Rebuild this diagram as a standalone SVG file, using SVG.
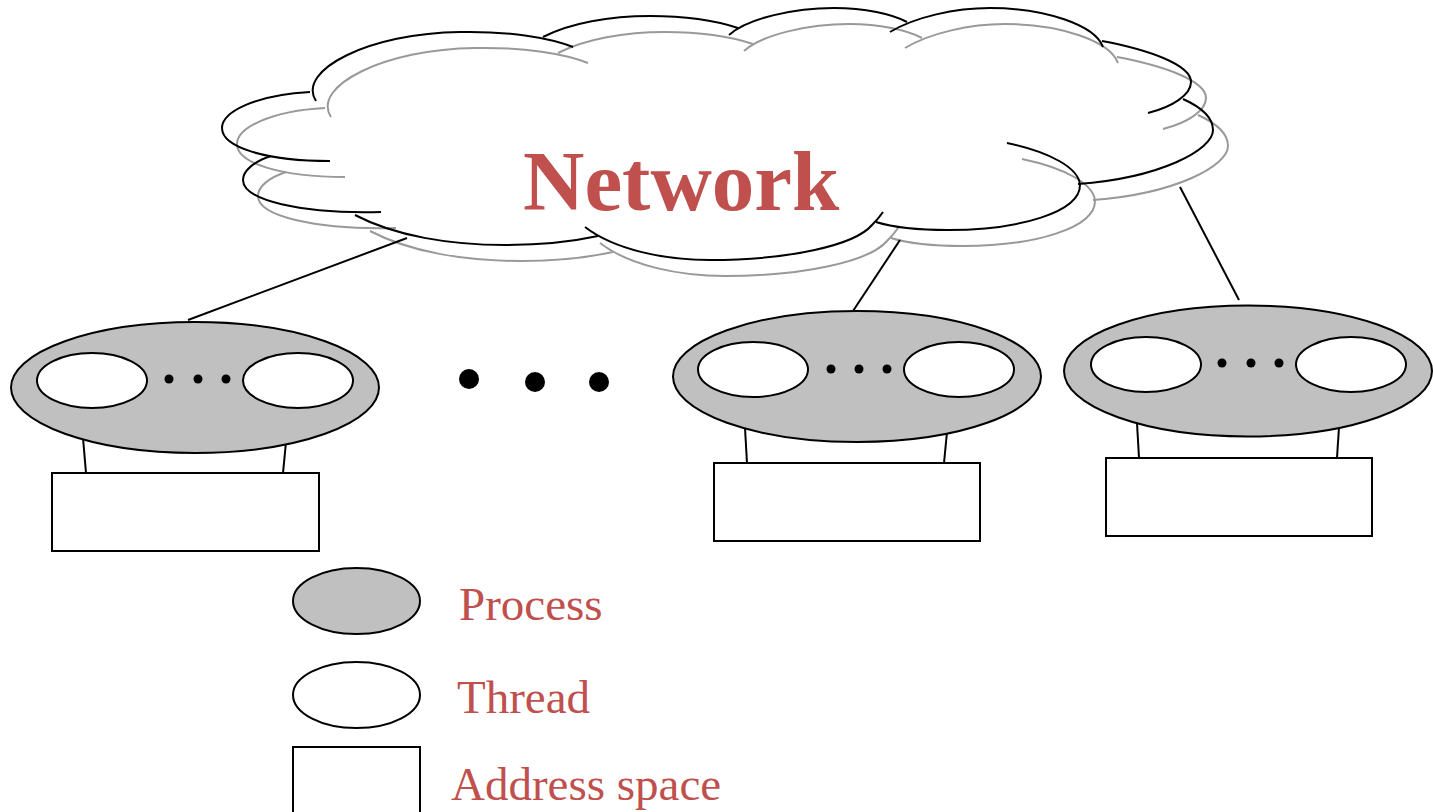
<svg xmlns="http://www.w3.org/2000/svg" xmlns:xlink="http://www.w3.org/1999/xlink" width="1433" height="812" viewBox="0 0 1433 812">
  <style>
    .arc { fill: none; stroke-linecap: butt; }
    .line { fill: none; stroke: #000; stroke-width: 2; }
    .proc { fill: #c0c0c0; stroke: #000; stroke-width: 2; }
    .thread { fill: #fff; stroke: #000; stroke-width: 2; }
    .space { fill: #fff; stroke: #000; stroke-width: 2; }
    .dot { fill: #000; }
    .title { font-family: "Liberation Serif", "Times New Roman", serif; font-weight: bold; font-size: 85px; fill: #c0504d; }
    .label { font-family: "Liberation Serif", "Times New Roman", serif; font-size: 47px; fill: #c0504d; }
  </style>
  <defs>
    <!-- cloud outline built from overlapping lobe arcs; stroke colour comes from the <use> -->
    <g id="cloudArcs">
      <path class="arc" d="M316,101 C296,70 370,33 460,32 C510,31 550,38 573,47"/>
      <path class="arc" d="M310,92 C255,95 222,112 222,128 C222,147 265,161 330,161"/>
      <path class="arc" d="M271,156 C253,162 243,171 243,180 C243,200 300,214 381,212"/>
      <path class="arc" d="M355,215 C395,236 450,245 505,245 C545,245 575,241 598,236"/>
      <path class="arc" d="M585,227 C615,250 665,260 710,260 C790,260 855,245 872,225 C878,219 881,215 883,212"/>
      <path class="arc" d="M1007,143 C1050,152 1079,168 1080,185 C1080,212 1020,230 948,230 C918,230 892,227 876,222"/>
      <path class="arc" d="M1183,99 C1203,108 1213,118 1213,130 C1213,150 1160,178 1078,184"/>
      <path class="arc" d="M1102,41 C1150,50 1191,65 1191,82 C1191,95 1172,107 1148,113"/>
      <path class="arc" d="M890,32 C915,17 955,8 990,8 C1045,8 1095,25 1103,47"/>
      <path class="arc" d="M729,35 C748,18 795,8 834,8 C865,8 892,14 907,22"/>
      <path class="arc" d="M543,37 C570,23 610,16 650,16 C690,16 720,22 738,28"/>
    </g>
  </defs>

  <g id="network">
    <use xlink:href="#cloudArcs" transform="translate(15,16)" stroke="#999" stroke-width="2"/>
    <use xlink:href="#cloudArcs" stroke="#000" stroke-width="2"/>
    <text class="title" x="523" y="210">Network</text>
  </g>

  <g id="connectors">
    <line class="line" x1="407" y1="238" x2="188" y2="320"/>
    <line class="line" x1="900" y1="240" x2="853" y2="311"/>
    <line class="line" x1="1180" y1="187" x2="1239" y2="300"/>
    <line class="line" x1="83" y1="438" x2="86" y2="473"/>
    <line class="line" x1="286" y1="442" x2="283" y2="473"/>
    <line class="line" x1="745" y1="428" x2="747" y2="463"/>
    <line class="line" x1="947" y1="432" x2="944" y2="463"/>
    <line class="line" x1="1137" y1="423" x2="1139" y2="458"/>
    <line class="line" x1="1339" y1="427" x2="1337" y2="458"/>
  </g>

  <g id="process1">
    <ellipse class="proc" cx="195" cy="387.5" rx="184" ry="65.5"/>
    <ellipse class="thread" cx="92" cy="380.5" rx="55" ry="27.5"/>
    <ellipse class="thread" cx="298" cy="380.5" rx="55" ry="27.5"/>
    <circle class="dot" cx="169" cy="379" r="4.5"/>
    <circle class="dot" cx="198" cy="379" r="4.5"/>
    <circle class="dot" cx="226" cy="379" r="4.5"/>
  </g>
  <g id="space1">
    <rect class="space" x="52" y="473" width="267" height="78"/>
  </g>

  <g id="ellipsis">
    <circle class="dot" cx="469" cy="379" r="10"/>
    <circle class="dot" cx="535" cy="382" r="10"/>
    <circle class="dot" cx="599" cy="382" r="10"/>
  </g>

  <g id="process2">
    <ellipse class="proc" cx="857" cy="376.5" rx="184" ry="65.5"/>
    <ellipse class="thread" cx="753" cy="369.5" rx="55" ry="27.5"/>
    <ellipse class="thread" cx="959" cy="369.5" rx="55" ry="27.5"/>
    <circle class="dot" cx="831" cy="369" r="4.5"/>
    <circle class="dot" cx="859" cy="369" r="4.5"/>
    <circle class="dot" cx="887" cy="369" r="4.5"/>
  </g>
  <g id="space2">
    <rect class="space" x="714" y="463" width="266" height="78"/>
  </g>

  <g id="process3">
    <ellipse class="proc" cx="1248" cy="371" rx="184" ry="65.5"/>
    <ellipse class="thread" cx="1146" cy="364.5" rx="55" ry="27.5"/>
    <ellipse class="thread" cx="1351" cy="364.5" rx="55" ry="27.5"/>
    <circle class="dot" cx="1222" cy="363" r="4.5"/>
    <circle class="dot" cx="1251" cy="363" r="4.5"/>
    <circle class="dot" cx="1279" cy="363" r="4.5"/>
  </g>
  <g id="space3">
    <rect class="space" x="1106" y="458" width="266" height="78"/>
  </g>

  <g id="legend">
    <ellipse class="proc" cx="356.5" cy="601" rx="63.5" ry="33"/>
    <text class="label" x="459" y="620">Process</text>
    <ellipse class="thread" cx="356.5" cy="695" rx="63.5" ry="33"/>
    <text class="label" x="457" y="713">Thread</text>
    <rect class="space" x="293" y="747" width="127" height="80"/>
    <text class="label" x="451" y="800">Address space</text>
  </g>
</svg>
